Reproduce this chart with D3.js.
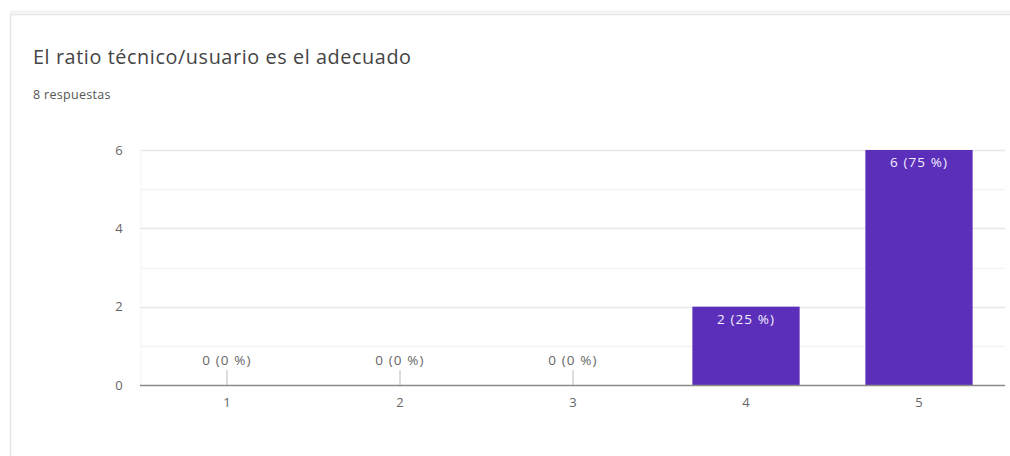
<!DOCTYPE html>
<html><head><meta charset="utf-8">
<script src="https://cdn.jsdelivr.net/npm/d3@7/dist/d3.min.js"></script>
<style>
html,body{margin:0;padding:0;background:#fff;}
svg{display:block;}
</style></head>
<body>
<svg id="c" width="1010" height="456"></svg>
<script>
const title = "El ratio técnico/usuario es el adecuado";
const subtitle = "8 respuestas";
const categories = ["1","2","3","4","5"];
const values = [0,0,0,2,6];
const total = 8;
const yTicks = [0,2,4,6];
const minorTicks = [1,3,5];
const FONT = "'Open Sans', Roboto, sans-serif";

const svg = d3.select("#c");
// card
svg.append("rect").attr("x",10.5).attr("y",14.5).attr("width",1010).attr("height",460)
  .attr("fill","#fff").attr("stroke","#e6e6e6").attr("stroke-width",1.5);
svg.append("line").attr("x1",10).attr("x2",1010).attr("y1",12).attr("y2",12).attr("stroke","#f2f2f2").attr("stroke-width",3);

svg.append("text").attr("x",33).attr("y",64).text(title)
  .attr("font-family",FONT).attr("font-size",19.8).attr("fill","#444").attr("letter-spacing",0.6);
svg.append("text").attr("x",33).attr("y",99).text(subtitle)
  .attr("font-family",FONT).attr("font-size",12.5).attr("fill","#555").attr("letter-spacing",0.3);

const x = d3.scaleBand().domain(categories).range([140.5,1005.5]).paddingInner(0.38).paddingOuter(0.19);
const y = d3.scaleLinear().domain([0,6]).range([385,150]);

const g = svg.append("g");
// minor grid
g.selectAll(".mg").data(minorTicks).join("line")
  .attr("x1",140).attr("x2",1005).attr("y1",d=>Math.round(y(d))+0.5).attr("y2",d=>Math.round(y(d))+0.5)
  .attr("stroke","#f3f3f3").attr("stroke-width",1.5);
// major grid
g.selectAll(".Mg").data(yTicks.filter(d=>d>0)).join("line")
  .attr("x1",140).attr("x2",1005).attr("y1",d=>Math.round(y(d))+0.5).attr("y2",d=>Math.round(y(d))+0.5)
  .attr("stroke","#e8e8e8").attr("stroke-width",1.5);
g.append("line").attr("x1",141).attr("x2",141).attr("y1",150).attr("y2",385).attr("stroke","#f3f3f3");

// y labels
g.selectAll(".yl").data(yTicks).join("text")
  .attr("x",119).attr("y",d=>y(d)+4.5).attr("text-anchor","middle").text(d=>d)
  .attr("font-family",FONT).attr("font-size",13).attr("fill","#666");

// bars
g.selectAll(".bar").data(values).join("rect")
  .attr("x",(d,i)=>x(categories[i])).attr("width",x.bandwidth())
  .attr("y",d=>y(d)).attr("height",d=>y(0)-y(d))
  .attr("fill","#5b2fba");
// zero markers
g.selectAll(".zm").data(values.map((v,i)=>({v,i})).filter(d=>d.v===0)).join("line")
  .attr("x1",d=>x(categories[d.i])+x.bandwidth()/2).attr("x2",d=>x(categories[d.i])+x.bandwidth()/2)
  .attr("y1",370).attr("y2",385).attr("stroke","#c8c8c8").attr("stroke-width",1.2);

// value labels
g.selectAll(".vl").data(values).join("text")
  .attr("x",(d,i)=>x(categories[i])+x.bandwidth()/2)
  .attr("y",d=>d===0? y(0)-20 : y(d)+17)
  .attr("text-anchor","middle")
  .text(d=>`${d} (${Math.round(d/total*100)} %)`)
  .attr("font-family",FONT).attr("font-size",13.5).attr("letter-spacing",1.1)
  .attr("fill",d=>d===0?"#666":"#f4f0ff");

// x axis line
g.append("line").attr("x1",140).attr("x2",1005).attr("y1",385.5).attr("y2",385.5)
  .attr("stroke","#8a8a8a").attr("stroke-width",1.5);
// x labels
g.selectAll(".xl").data(categories).join("text")
  .attr("x",d=>x(d)+x.bandwidth()/2).attr("y",407).attr("text-anchor","middle").text(d=>d)
  .attr("font-family",FONT).attr("font-size",13).attr("fill","#666");
</script>
</body></html>
